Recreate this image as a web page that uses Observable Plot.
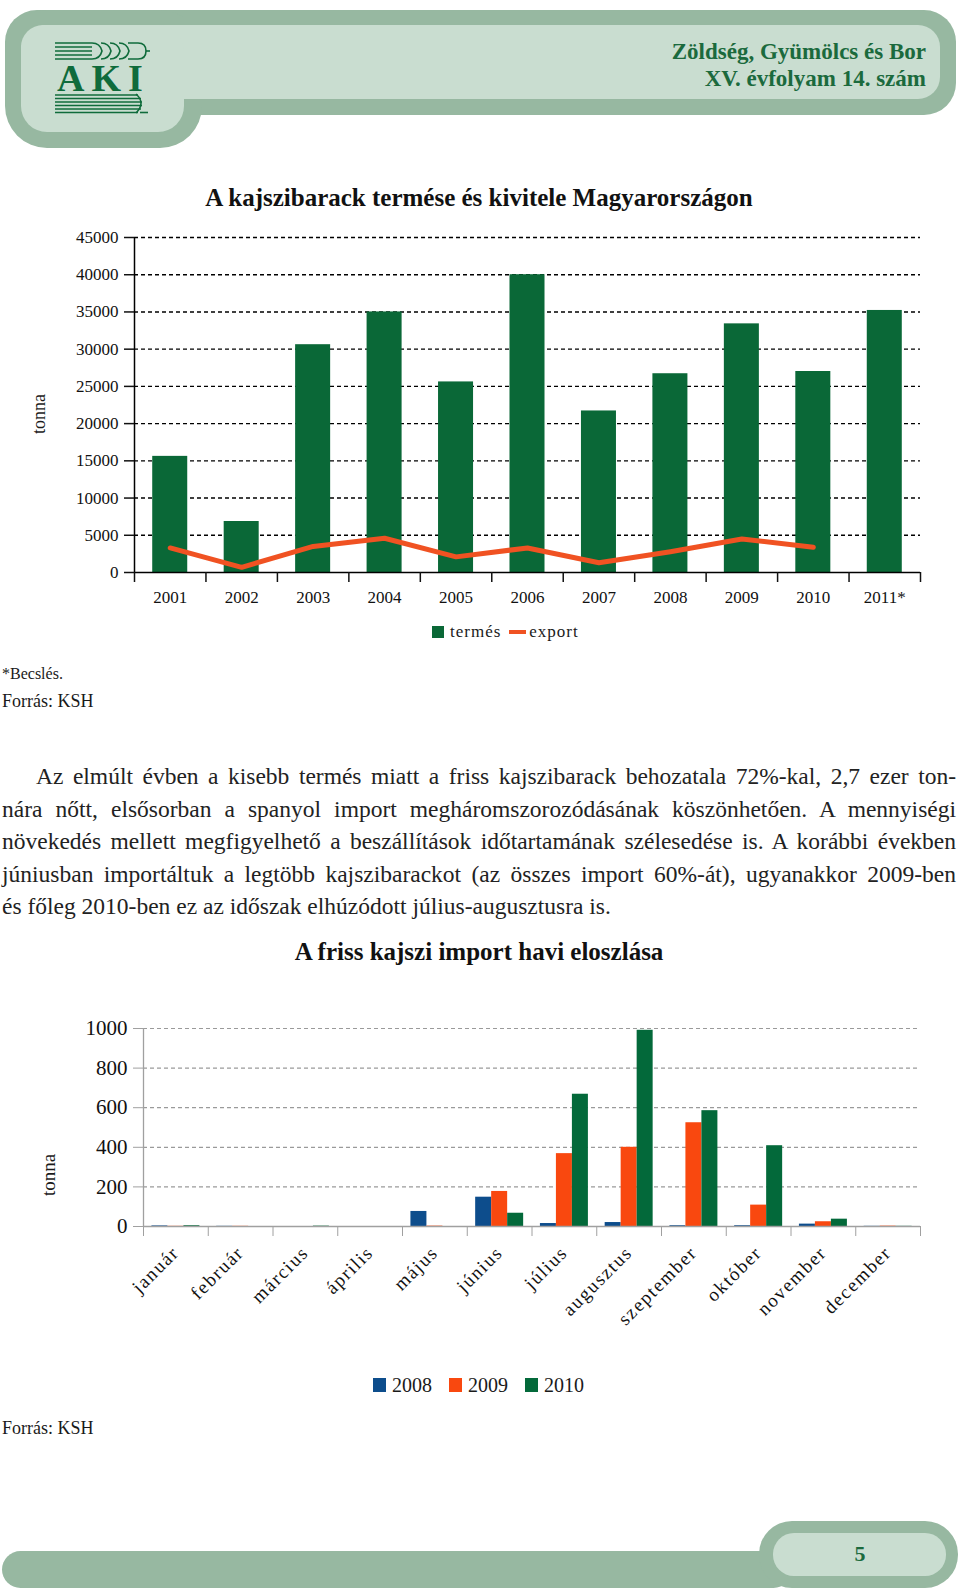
<!DOCTYPE html>
<html lang="hu">
<head>
<meta charset="utf-8">
<script src="https://cdn.jsdelivr.net/npm/d3@7"></script>
<script src="https://cdn.jsdelivr.net/npm/@observablehq/plot@0.6"></script>
<style>
  html, body { margin: 0; padding: 0; background: #fff; }
  body { width: 960px; height: 1594px; position: relative; overflow: hidden;
         font-family: "Liberation Serif", "DejaVu Serif", serif; color: #1a1a1a; }
  .abs { position: absolute; }
  .title { left: 0; width: 958px; text-align: center; font-weight: bold; color: #111; }
  .para { left: 2px; width: 954px; font-size: 23.5px; line-height: 32.5px; color: #222; }
  .para div { text-align: justify; text-align-last: justify; white-space: nowrap; }
  .para div.last { text-align-last: left; }
  .legend { display: flex; align-items: center; white-space: nowrap; }
  .sw { display: inline-block; }
  #chart1 svg, #chart2 svg, #chart1 text, #chart2 text { font-family: "Liberation Serif", serif !important; }
  #chart2 g[aria-label="x-axis tick label"] text { letter-spacing: 1.6px; }
</style>
</head>
<body>

<!-- header banner -->
<svg class="abs" style="left:0;top:0" width="960" height="160">
  <rect x="5" y="10" width="951" height="105" rx="32" fill="#97b8a1"/>
  <rect x="5" y="10" width="197" height="138" rx="42" fill="#97b8a1"/>
  <rect x="21" y="25" width="919" height="74" rx="22" fill="#c9ddd0"/>
  <rect x="21" y="25" width="163" height="107" rx="26" fill="#c9ddd0"/>
  <g stroke="#0f6b3b" stroke-width="1.6" fill="none">
    <line x1="55" y1="43" x2="92" y2="43"/>
    <line x1="55" y1="47" x2="92" y2="47"/>
    <line x1="55" y1="51" x2="92" y2="51"/>
    <line x1="55" y1="55" x2="92" y2="55"/>
    <line x1="55" y1="59" x2="92" y2="59"/>
    <path d="M92 43 q8 0 10 8 q-2 8 -10 8"/>
    <path d="M101 43 q8 0 10 8 q-2 8 -10 8"/>
    <path d="M110 43 q8 0 10 8 q-2 8 -10 8"/>
    <path d="M119 43 q8 0 10 8 q-2 8 -10 8"/>
    <path d="M128 43 h10 q8 0 8 8 q0 8 -8 8 h-10"/>
    <line x1="146" y1="51" x2="150" y2="51"/>
    <line x1="55" y1="95" x2="138" y2="95"/>
    <line x1="55" y1="98.5" x2="141" y2="98.5"/>
    <line x1="55" y1="102" x2="142" y2="102"/>
    <line x1="55" y1="105.5" x2="142" y2="105.5"/>
    <line x1="55" y1="109" x2="141" y2="109"/>
    <line x1="55" y1="112.5" x2="138" y2="112.5"/>
    <path d="M136 94 q10 9 0 19"/>
    <line x1="140" y1="112.5" x2="148" y2="112.5"/>
  </g>
  <text x="57" y="91" font-family="Liberation Serif" font-size="38" fill="#0f6b3b" letter-spacing="7" font-weight="bold">AKI</text>
  <text x="926" y="59" text-anchor="end" font-family="Liberation Serif" font-weight="bold" font-size="23" fill="#1b6a3d">Zöldség, Gyümölcs és Bor</text>
  <text x="926" y="86" text-anchor="end" font-family="Liberation Serif" font-weight="bold" font-size="23" fill="#1b6a3d">XV. évfolyam 14. szám</text>
</svg>

<div class="abs title" style="top:183px;font-size:25px;line-height:30px;">A kajszibarack termése és kivitele Magyarországon</div>
<div class="abs" style="left:29px;top:404px;width:20px;height:20px;"><div style="transform:rotate(-90deg);transform-origin:center;font-size:18px;line-height:20px;width:60px;margin-left:-20px;text-align:center;">tonna</div></div>
<div id="chart1" class="abs" style="left:0;top:220px;"></div>

<div class="abs legend" style="left:432px;top:622px;font-size:17px;line-height:20px;letter-spacing:1px;">
  <span class="sw" style="width:12px;height:12px;background:#0a6837;margin-right:6px;"></span><span>termés</span>
  <span class="sw" style="width:17px;height:4px;background:#f05222;margin:0 3px 0 8px;"></span><span>export</span>
</div>

<div class="abs" style="left:2px;top:664px;font-size:16px;line-height:20px;">*Becslés.</div>
<div class="abs" style="left:2px;top:691px;font-size:18px;line-height:20px;">Forrás: KSH</div>

<div class="abs para" style="top:760px;">
  <div style="text-indent:34px;">Az elmúlt évben a kisebb termés miatt a friss kajszibarack behozatala 72%-kal, 2,7 ezer ton-</div>
  <div>nára nőtt, elsősorban a spanyol import megháromszorozódásának köszönhetően. A mennyiségi</div>
  <div>növekedés mellett megfigyelhető a beszállítások időtartamának szélesedése is. A korábbi években</div>
  <div>júniusban importáltuk a legtöbb kajszibarackot (az összes import 60%-át), ugyanakkor 2009-ben</div>
  <div class="last">és főleg 2010-ben ez az időszak elhúzódott július-augusztusra is.</div>
</div>

<div class="abs title" style="top:937px;font-size:25px;line-height:30px;">A friss kajszi import havi eloszlása</div>
<div class="abs" style="left:39px;top:1165px;width:20px;height:20px;"><div style="transform:rotate(-90deg);transform-origin:center;font-size:19px;line-height:20px;width:60px;margin-left:-20px;text-align:center;">tonna</div></div>
<div id="chart2" class="abs" style="left:0;top:990px;"></div>

<div class="abs legend" style="left:373px;top:1374px;font-size:20px;line-height:22px;">
  <span class="sw" style="width:13px;height:14px;background:#0d4d8c;margin-right:6px;"></span><span>2008</span>
  <span class="sw" style="width:13px;height:14px;background:#f9480f;margin:0 6px 0 17px;"></span><span>2009</span>
  <span class="sw" style="width:13px;height:14px;background:#03693a;margin:0 6px 0 17px;"></span><span>2010</span>
</div>
<div class="abs" style="left:2px;top:1418px;font-size:18px;line-height:20px;">Forrás: KSH</div>

<!-- footer -->
<svg class="abs" style="left:0;top:1510px" width="960" height="84">
  <rect x="2" y="41" width="790" height="37" rx="18.5" fill="#97b8a1"/>
  <rect x="759" y="11" width="199" height="67" rx="33" fill="#97b8a1"/>
  <rect x="773" y="23" width="173" height="43" rx="21" fill="#c9ddd0"/>
  <text x="860" y="51" text-anchor="middle" font-family="Liberation Serif" font-weight="bold" font-size="22" fill="#1b6a3d">5</text>
</svg>

<script>
// ---------- Chart 1 data ----------
const years = [2001, 2002, 2003, 2004, 2005, 2006, 2007, 2008, 2009, 2010, 2011];
const yearLabels = ["2001", "2002", "2003", "2004", "2005", "2006", "2007", "2008", "2009", "2010", "2011*"];
const termes = [15600, 6850, 30600, 35000, 25600, 40000, 21700, 26700, 33400, 27000, 35200];
const exportYears = [2001, 2002, 2003, 2004, 2005, 2006, 2007, 2008, 2009, 2010];
const exportVals = [3300, 700, 3500, 4600, 2100, 3300, 1300, 2800, 4500, 3400];
const yTicks1 = [0, 5000, 10000, 15000, 20000, 25000, 30000, 35000, 40000, 45000];

// ---------- Chart 2 data ----------
const months = ["január", "február", "március", "április", "május", "június",
                "július", "augusztus", "szeptember", "október", "november", "december"];
const seriesYears = ["2008", "2009", "2010"];
const import2008 = [3, 1, 0, 0, 76, 148, 15, 20, 4, 4, 12, 1];
const import2009 = [1, 1, 0, 0, 2, 177, 368, 400, 524, 108, 24, 2];
const import2010 = [4, 0, 2, 0, 0, 67, 668, 991, 585, 408, 37, 1];
const yTicks2 = [0, 200, 400, 600, 800, 1000];

const green = "#0a6837", orange = "#f05222";
const seriesColors = ["#0d4d8c", "#f9480f", "#03693a"];
const serif = "Liberation Serif";

// ---- chart 1 ----
const d1 = years.map((y, i) => ({year: y, termes: termes[i]}));
const e1 = exportYears.map((y, i) => ({year: y, value: exportVals[i]}));
const boundaries1 = d3.range(years[0] - 0.5, years[years.length - 1] + 1, 1);

const chart1 = Plot.plot({
  width: 960, height: 420,
  marginLeft: 134, marginRight: 40, marginTop: 17, marginBottom: 68,
  style: {fontFamily: serif, fontSize: "17px", color: "#111", background: "transparent"},
  x: {type: "linear", domain: [years[0] - 0.5, years[years.length - 1] + 0.5]},
  y: {domain: [0, 45000]},
  marks: [
    Plot.gridY(yTicks1.slice(1), {stroke: "#000", strokeOpacity: 1, strokeWidth: 1.4, strokeDasharray: "4,3"}),
    Plot.rectY(d1, {x1: d => d.year - 0.245, x2: d => d.year + 0.245, y1: 0, y2: "termes", fill: green}),
    Plot.line(e1, {x: "year", y: "value", stroke: orange, strokeWidth: 5, strokeLinejoin: "round"}),
    Plot.ruleY([0], {stroke: "#000", strokeWidth: 1.5}),
    Plot.ruleX([years[0] - 0.5], {y1: 0, y2: 45000, stroke: "#000", strokeWidth: 1.5}),
    Plot.axisY(yTicks1, {tickSize: 10, tickPadding: 6, tickFormat: d => String(d), fontSize: 17, fontFamily: serif, strokeWidth: 1.5, label: null}),
    Plot.axisX(boundaries1, {tickSize: 10, tickFormat: () => "", strokeWidth: 1.5, label: null}),
    Plot.axisX(years, {tickSize: 0, tickPadding: 18, fontSize: 17, fontFamily: serif, label: null, tickFormat: d => yearLabels[years.indexOf(d)]})
  ]
});
document.getElementById("chart1").append(chart1);

// ---- chart 2 ----
const seriesValues = [import2008, import2009, import2010];
const groupPad = 0.13, barW = 0.247;
const d2 = [];
months.forEach((m, i) => seriesYears.forEach((s, k) => d2.push({mi: i + 1, month: m, series: s, k, value: seriesValues[k][i]})));
const monthIdx = months.map((m, i) => i + 1);
const boundaries2 = d3.range(0.5, months.length + 1, 1);

const chart2 = Plot.plot({
  width: 960, height: 360,
  marginLeft: 143, marginRight: 40, marginTop: 38, marginBottom: 124,
  style: {fontFamily: serif, fontSize: "20px", color: "#111", background: "transparent"},
  x: {type: "linear", domain: [0.5, months.length + 0.5]},
  y: {domain: [0, 1000]},
  color: {domain: seriesYears, range: seriesColors},
  marks: [
    Plot.gridY(yTicks2.slice(1), {stroke: "#9a9a9a", strokeOpacity: 1, strokeWidth: 1.2, strokeDasharray: "4,3"}),
    Plot.rectY(d2, {
      x1: d => d.mi - 0.5 + groupPad + d.k * barW,
      x2: d => d.mi - 0.5 + groupPad + (d.k + 1) * barW,
      y1: 0, y2: "value", fill: "series"
    }),
    Plot.ruleY([0], {stroke: "#a0a0a0", strokeWidth: 1.3}),
    Plot.ruleX([0.5], {y1: 0, y2: 1000, stroke: "#a0a0a0", strokeWidth: 1.3}),
    Plot.axisY(yTicks2, {tickSize: 10, tickPadding: 6, tickFormat: d => String(d), fontSize: 21, fontFamily: serif, stroke: "#a0a0a0", label: null}),
    Plot.axisX(boundaries2, {tickSize: 10, tickFormat: () => "", stroke: "#a0a0a0", label: null}),
    Plot.axisX(monthIdx, {tickSize: 0, tickPadding: 23, tickRotate: -45, fontSize: 19, fontFamily: serif, label: null, tickFormat: d => months[d - 1]})
  ]
});
document.getElementById("chart2").append(chart2);
</script>
</body>
</html>
